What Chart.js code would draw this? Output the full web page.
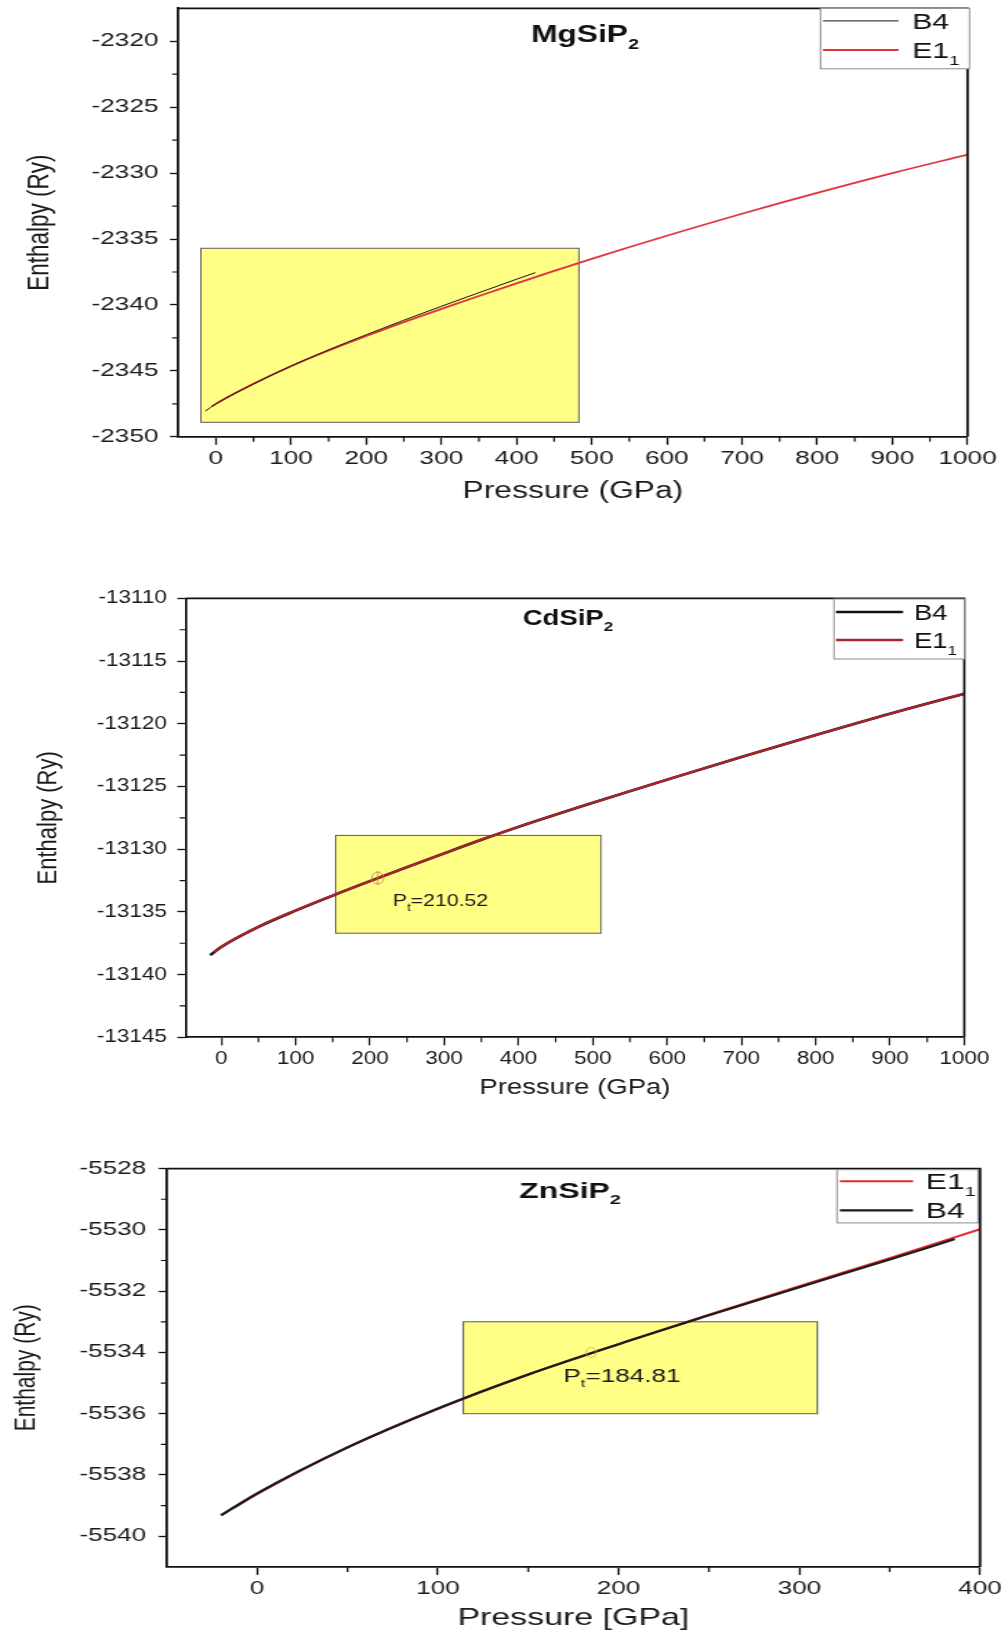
<!DOCTYPE html>
<html>
<head>
<meta charset="utf-8">
<title>Enthalpy vs pressure: MgSiP2, CdSiP2, ZnSiP2</title>
<script src="https://cdn.jsdelivr.net/npm/chart.js@4.4.1/dist/chart.umd.min.js"></script>
<style>
  html, body { margin: 0; padding: 0; background: #fff; }
  body { width: 1005px; height: 1634px; position: relative; overflow: hidden; }
  .panel { position: absolute; left: 0; transform-origin: 0 0; }
  .panel canvas { display: block; }
</style>
</head>
<body>
<div class="panel"><canvas id="mgChart"></canvas></div>
<div class="panel"><canvas id="cdChart"></canvas></div>
<div class="panel"><canvas id="znChart"></canvas></div>
<script>
// ---- MgSiP2 ----
const mgPressureB4 = [-14, 0, 50, 100, 150, 200, 250, 300, 350, 400, 425];
const mgEnthalpyB4 = [-2348.05, -2347.5, -2346.0, -2344.63, -2343.4, -2342.26, -2341.16, -2340.1, -2339.07, -2338.05, -2337.55];
const mgPressureE11 = [-5, 0, 50, 100, 150, 200, 250, 300, 350, 400, 450, 500, 600, 700, 800, 900, 1000];
const mgEnthalpyE11 = [-2347.68, -2347.5, -2345.98, -2344.65, -2343.46, -2342.36, -2341.3, -2340.3, -2339.32, -2338.36, -2337.42, -2336.5, -2334.75, -2333.08, -2331.5, -2330.0, -2328.6];
const mgPressureTicks = [0, 100, 200, 300, 400, 500, 600, 700, 800, 900, 1000];
const mgEnthalpyTicks = [-2350, -2345, -2340, -2335, -2330, -2325, -2320];
const mgPanelPressure = [-20, 483];
const mgPanelEnthalpy = [-2348.9, -2335.7];

// ---- CdSiP2 ----
const cdPressureB4 = [-15, 0, 50, 100, 150, 200, 250, 300, 350, 400, 500, 600, 700, 800, 900, 1000];
const cdEnthalpyB4 = [-13138.45, -13137.8, -13136.2, -13134.9, -13133.7, -13132.55, -13131.43, -13130.33, -13129.25, -13128.22, -13126.3, -13124.45, -13122.65, -13120.9, -13119.2, -13117.6];
const cdPressureE11 = [-10, 0, 50, 100, 150, 200, 250, 300, 350, 400, 500, 600, 700, 800, 900, 1000];
const cdEnthalpyE11 = [-13138.2, -13137.78, -13136.18, -13134.88, -13133.69, -13132.55, -13131.43, -13130.33, -13129.25, -13128.22, -13126.3, -13124.45, -13122.65, -13120.9, -13119.2, -13117.6];
const cdPressureTicks = [0, 100, 200, 300, 400, 500, 600, 700, 800, 900, 1000];
const cdEnthalpyTicks = [-13145, -13140, -13135, -13130, -13125, -13120, -13115, -13110];
const cdPanelPressure = [154, 511];
const cdPanelEnthalpy = [-13136.7, -13128.9];
const cdTransitionPressure = 210.52;
const cdTransitionEnthalpy = -13132.3;

// ---- ZnSiP2 ----
const znPressureB4 = [-20, 0, 50, 100, 150, 200, 250, 300, 350, 386];
const znEnthalpyB4 = [-5539.32, -5538.6, -5537.1, -5535.83, -5534.72, -5533.73, -5532.79, -5531.87, -5530.97, -5530.3];
const znPressureE11 = [-13, 0, 50, 100, 150, 200, 250, 300, 350, 400];
const znEnthalpyE11 = [-5539.08, -5538.62, -5537.1, -5535.84, -5534.72, -5533.73, -5532.77, -5531.84, -5530.92, -5529.98];
const znPressureTicks = [0, 100, 200, 300, 400];
const znEnthalpyTicks = [-5540, -5538, -5536, -5534, -5532, -5530, -5528];
const znPanelPressure = [114, 310];
const znPanelEnthalpy = [-5536, -5533];
const znTransitionPressure = 184.81;
const znTransitionEnthalpy = -5534.0;

const FONT = '"Liberation Sans", Arial, Helvetica, sans-serif';
const PAGE_W = 1005;

function points(px, py) {
  return px.map((p, i) => ({ x: p, y: py[i] }));
}

// half-step ticks between the labelled ones, kept off the frame edges
function minorTicks(major, min, max) {
  const step = major[1] - major[0];
  const out = [];
  for (let i = -1; i < major.length; i++) {
    const v = (i < 0 ? major[0] - step : major[i]) + step / 2;
    if (v > min + 1e-9 && v < max - 1e-9) out.push(v);
  }
  return out;
}

// text with subscript runs: parts = [[text, isSub], ...]
function drawRich(ctx, parts, x, y, size, weight, align) {
  const sub = size * 0.62;
  const widths = parts.map(([t, s]) => {
    ctx.font = weight + ' ' + (s ? sub : size) + 'px ' + FONT;
    return ctx.measureText(t).width;
  });
  const total = widths.reduce((a, b) => a + b, 0);
  let cx = align === 'center' ? x - total / 2 : x;
  ctx.textAlign = 'left';
  ctx.textBaseline = 'alphabetic';
  parts.forEach(([t, s], i) => {
    ctx.font = weight + ' ' + (s ? sub : size) + 'px ' + FONT;
    ctx.fillText(t, cx, s ? y + size * 0.3 : y);
    cx += widths[i];
  });
}

function decor(cfg) {
  return {
    id: 'decor',
    beforeDatasetsDraw(chart) {
      const { ctx, scales: { x, y } } = chart;
      const l = x.getPixelForValue(cfg.panel.p[0]);
      const r = x.getPixelForValue(cfg.panel.p[1]);
      const t = y.getPixelForValue(cfg.panel.h[1]);
      const b = y.getPixelForValue(cfg.panel.h[0]);
      ctx.save();
      ctx.fillStyle = '#ffff85';
      ctx.fillRect(l, t, r - l, b - t);
      ctx.strokeStyle = '#5c5c5c';
      ctx.lineWidth = 1;
      ctx.strokeRect(l, t, r - l, b - t);
      ctx.restore();
    },
    afterDatasetsDraw(chart) {
      const { ctx, scales: { x, y } } = chart;
      const k = cfg.stretch;
      ctx.save();
      if (cfg.marker) {
        const m = cfg.marker;
        const mx = x.getPixelForValue(m.p), my = y.getPixelForValue(m.h);
        ctx.strokeStyle = m.color;
        ctx.lineWidth = 1;
        ctx.beginPath();
        ctx.ellipse(mx, my, m.r / k, m.r, 0, 0, Math.PI * 2);
        ctx.stroke();
        if (m.bar) {
          ctx.beginPath();
          ctx.moveTo(mx, my - m.r - 1);
          ctx.lineTo(mx, my + m.r + 1);
          ctx.stroke();
        }
      }
      if (cfg.note) {
        const n = cfg.note;
        ctx.fillStyle = '#1a1a1a';
        drawRich(ctx, n.parts, x.getPixelForValue(n.p), y.getPixelForValue(n.h), n.size, 'normal', 'left');
      }
      ctx.restore();
    },
    afterDraw(chart) {
      const { ctx, chartArea: a, scales: { x, y } } = chart;
      const k = cfg.stretch;
      ctx.save();
      // closing top and right sides of the frame
      ctx.strokeStyle = '#111';
      ctx.lineWidth = 1.8;
      ctx.beginPath();
      ctx.moveTo(a.left, a.top);
      ctx.lineTo(a.right, a.top);
      ctx.lineTo(a.right, a.bottom);
      ctx.stroke();

      // minor ticks
      ctx.lineWidth = 1.2;
      ctx.beginPath();
      minorTicks(cfg.xTicks, cfg.xMin, cfg.xMax).forEach(v => {
        const px = x.getPixelForValue(v);
        ctx.moveTo(px, a.bottom);
        ctx.lineTo(px, a.bottom + 5);
      });
      minorTicks(cfg.yTicks, cfg.yMin, cfg.yMax).forEach(v => {
        const py = y.getPixelForValue(v);
        ctx.moveTo(a.left, py);
        ctx.lineTo(a.left - 6 / k, py);
      });
      ctx.stroke();

      // compound name
      ctx.fillStyle = '#111';
      drawRich(ctx, cfg.title.parts, cfg.title.x / k, cfg.title.y + cfg.title.size * 0.35, cfg.title.size, 'bold', 'center');

      // legend box
      const lg = cfg.legend;
      ctx.fillStyle = '#fff';
      ctx.fillRect(lg.l / k, lg.t, (lg.r - lg.l) / k, lg.b - lg.t);
      ctx.strokeStyle = '#8c8c8c';
      ctx.lineWidth = 1;
      ctx.strokeRect(lg.l / k, lg.t, (lg.r - lg.l) / k, lg.b - lg.t);
      lg.rows.forEach(row => {
        const ds = chart.data.datasets[row.ds];
        ctx.strokeStyle = ds.borderColor;
        ctx.lineWidth = ds.borderWidth;
        ctx.beginPath();
        ctx.moveTo(lg.x0 / k, row.y);
        ctx.lineTo(lg.x1 / k, row.y);
        ctx.stroke();
        ctx.fillStyle = '#111';
        drawRich(ctx, ds.labelParts, lg.tx / k, row.y + lg.size * 0.36, lg.size, 'normal', 'left');
      });
      ctx.restore();
    }
  };
}

function buildChart(canvasId, cfg) {
  const canvas = document.getElementById(canvasId);
  const wrap = canvas.parentNode;
  const w = Math.round(PAGE_W / cfg.stretch);
  cfg.stretch = PAGE_W / w;
  const s = cfg.stretch;
  canvas.width = w;
  canvas.height = cfg.height;
  wrap.style.top = cfg.top + 'px';
  wrap.style.width = w + 'px';
  wrap.style.height = cfg.height + 'px';
  wrap.style.transform = 'scaleX(' + s + ')';

  const A = cfg.area;
  const yTickLen = 8.3 / s;
  const xTickLen = 8;
  const yAxisW = A.left / s;
  const xAxisH = cfg.height - A.bottom;

  new Chart(canvas, {
    type: 'scatter',
    data: { datasets: cfg.datasets },
    options: {
      responsive: false,
      devicePixelRatio: 1,
      animation: false,
      events: [],
      layout: { padding: { top: A.top, right: w - A.right / s, bottom: 0, left: 0 } },
      elements: { point: { radius: 0 }, line: { cubicInterpolationMode: 'monotone' } },
      plugins: { legend: { display: false }, tooltip: { enabled: false } },
      scales: {
        x: {
          type: 'linear',
          position: 'bottom',
          min: cfg.xMin,
          max: cfg.xMax,
          afterBuildTicks: sc => { sc.ticks = cfg.xTicks.map(v => ({ value: v })); },
          afterFit: sc => { sc.height = xAxisH; sc.paddingLeft = 0; sc.paddingRight = 0; },
          ticks: {
            autoSkip: false,
            maxRotation: 0,
            color: '#1a1a1a',
            font: { family: FONT, size: cfg.tickSize },
            padding: cfg.xTickCenter - A.bottom - xTickLen - cfg.tickSize * 0.6,
            callback: v => String(v)
          },
          grid: { drawOnChartArea: false, drawTicks: true, tickLength: xTickLen, tickColor: '#111', tickWidth: 1.3 },
          border: { display: true, color: '#111', width: 1.8 },
          title: {
            display: true,
            text: cfg.xTitle,
            color: '#1a1a1a',
            font: { family: FONT, size: cfg.xTitleSize, lineHeight: 1.2 },
            padding: { top: 0, bottom: cfg.height - cfg.xTitleCenter - cfg.xTitleSize * 0.6 }
          }
        },
        y: {
          type: 'linear',
          position: 'left',
          min: cfg.yMin,
          max: cfg.yMax,
          afterBuildTicks: sc => { sc.ticks = cfg.yTicks.map(v => ({ value: v })); },
          afterFit: sc => { sc.width = yAxisW; sc.paddingTop = 0; sc.paddingBottom = 0; },
          ticks: {
            autoSkip: false,
            color: '#1a1a1a',
            font: { family: FONT, size: cfg.tickSize },
            padding: (A.left - cfg.yTickRight) / s - yTickLen,
            callback: v => String(v)
          },
          grid: { drawOnChartArea: false, drawTicks: true, tickLength: yTickLen, tickColor: '#111', tickWidth: 1.3 },
          border: { display: true, color: '#111', width: 1.8 },
          title: {
            display: true,
            text: 'Enthalpy (Ry)',
            color: '#1a1a1a',
            font: { family: FONT, size: cfg.yTitleSize, lineHeight: 1.2 },
            padding: { top: cfg.yTitleX / s - cfg.yTitleSize * 0.6, bottom: 0 }
          }
        }
      }
    },
    plugins: [decor(cfg)]
  });
}

const labelB4 = [['B4', false]];
const labelE11 = [['E1', false], ['1', true]];

buildChart('mgChart', {
  top: 0, height: 520, stretch: 1.38,
  area: { left: 178.3, right: 967.5, top: 8.3, bottom: 436.8 },
  xMin: -50, xMax: 1000, yMin: -2350, yMax: -2317.5,
  xTicks: mgPressureTicks, yTicks: mgEnthalpyTicks,
  tickSize: 19, yTickRight: 158.5, xTickCenter: 459,
  xTitle: 'Pressure (GPa)', xTitleSize: 23, xTitleCenter: 492,
  yTitleSize: 22.5, yTitleX: 40,
  datasets: [
    { label: 'B4', labelParts: labelB4, data: points(mgPressureB4, mgEnthalpyB4), showLine: true, borderColor: '#111', borderWidth: 1, order: 1 },
    { label: 'E1_1', labelParts: labelE11, data: points(mgPressureE11, mgEnthalpyE11), showLine: true, borderColor: '#e3343c', borderWidth: 1.8, order: 2 }
  ],
  panel: { p: mgPanelPressure, h: mgPanelEnthalpy },
  title: { parts: [['MgSiP', false], ['2', true]], x: 585, y: 34.4, size: 23 },
  legend: { l: 820.5, r: 969.5, t: 8.3, b: 68.8, x0: 823, x1: 898.6, tx: 912, size: 22,
            rows: [{ ds: 0, y: 20.9 }, { ds: 1, y: 50 }] }
});

buildChart('cdChart', {
  top: 560, height: 550, stretch: 1.25,
  area: { left: 185.6, right: 964.3, top: 38.4, bottom: 477.3 },
  xMin: -48, xMax: 1000, yMin: -13145, yMax: -13110,
  xTicks: cdPressureTicks, yTicks: cdEnthalpyTicks,
  tickSize: 18, yTickRight: 166.8, xTickCenter: 499,
  xTitle: 'Pressure (GPa)', xTitleSize: 22, xTitleCenter: 528.4,
  yTitleSize: 22, yTitleX: 49,
  datasets: [
    { label: 'B4', labelParts: labelB4, data: points(cdPressureB4, cdEnthalpyB4), showLine: true, borderColor: '#111', borderWidth: 2.6, order: 2 },
    { label: 'E1_1', labelParts: labelE11, data: points(cdPressureE11, cdEnthalpyE11), showLine: true, borderColor: '#a8242a', borderWidth: 2.3, order: 1 }
  ],
  panel: { p: cdPanelPressure, h: cdPanelEnthalpy },
  marker: { p: cdTransitionPressure, h: cdTransitionEnthalpy, r: 6, color: 'rgba(196,120,70,0.75)', bar: true },
  note: { parts: [['P', false], ['t', true], ['=' + cdTransitionPressure.toFixed(2), false]], p: 231, h: -13134.55, size: 17 },
  title: { parts: [['CdSiP', false], ['2', true]], x: 568, y: 57, size: 22 },
  legend: { l: 834, r: 964.3, t: 39, b: 99, x0: 836, x1: 903, tx: 914, size: 22,
            rows: [{ ds: 0, y: 52 }, { ds: 1, y: 80 }] }
});

buildChart('znChart', {
  top: 1110, height: 524, stretch: 1.45,
  area: { left: 166.8, right: 980, top: 58.6, bottom: 456.9 },
  xMin: -50, xMax: 400, yMin: -5541, yMax: -5528,
  xTicks: znPressureTicks, yTicks: znEnthalpyTicks,
  tickSize: 18, yTickRight: 146, xTickCenter: 478.8,
  xTitle: 'Pressure [GPa]', xTitleSize: 23.4, xTitleCenter: 509,
  yTitleSize: 21, yTitleX: 27,
  datasets: [
    { label: 'E1_1', labelParts: labelE11, data: points(znPressureE11, znEnthalpyE11), showLine: true, borderColor: '#e8282c', borderWidth: 2, order: 2 },
    { label: 'B4', labelParts: labelB4, data: points(znPressureB4, znEnthalpyB4), showLine: true, borderColor: '#1a1a1a', borderWidth: 2.2, order: 1 }
  ],
  panel: { p: znPanelPressure, h: znPanelEnthalpy },
  marker: { p: znTransitionPressure, h: znTransitionEnthalpy, r: 5, color: 'rgba(214,150,95,0.65)', bar: false },
  note: { parts: [['P', false], ['t', true], ['=' + znTransitionPressure.toFixed(2), false]], p: 169.5, h: -5534.95, size: 18 },
  title: { parts: [['ZnSiP', false], ['2', true]], x: 570, y: 80, size: 22 },
  legend: { l: 837, r: 978, t: 59.7, b: 112.9, x0: 840, x1: 913, tx: 925.7, size: 22,
            rows: [{ ds: 0, y: 71.2 }, { ds: 1, y: 100.3 }] }
});
</script>
</body>
</html>
